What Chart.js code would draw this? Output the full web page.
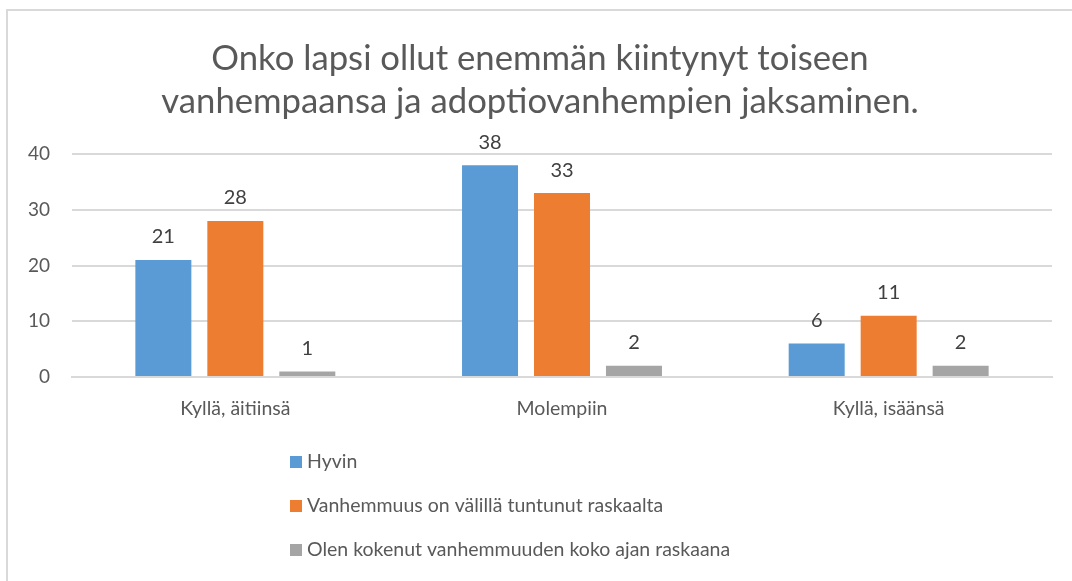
<!DOCTYPE html>
<html lang="fi">
<head>
  <meta charset="UTF-8">
  <title>Onko lapsi ollut enemmän kiintynyt toiseen vanhempaansa</title>
  <script src="https://cdn.jsdelivr.net/npm/chart.js"></script>
  <style>
    html, body {
      margin: 0;
      padding: 0;
      background: #fff;
      overflow: hidden;
    }
    #frame {
      position: absolute;
      left: 6px;
      top: 9px;
      width: 1200px;
      height: 800px;
      border: 2px solid #d9d9d9;
    }
    #wrap {
      position: absolute;
      left: 0;
      top: 0;
      width: 1072px;
      height: 581px;
    }
  </style>
</head>
<body>
  <div id="frame"></div>
  <div id="wrap"><canvas id="chart"></canvas></div>

  <script>
    // kategoriat ja sarjat
    const categories = ["Kyllä, äitiinsä", "Molempiin", "Kyllä, isäänsä"];
    const seriesNames = [
      "Hyvin",
      "Vanhemmuus on välillä tuntunut raskaalta",
      "Olen kokenut vanhemmuuden koko ajan raskaana"
    ];
    const hyvin = [21, 38, 6];
    const valilla = [28, 33, 11];
    const kokoAjan = [1, 2, 2];
    const yTicks = [0, 10, 20, 30, 40];

    const colors = ["#5b9bd5", "#ed7d31", "#a5a5a5"];
    const fontFamily = "Lato, 'Open Sans', sans-serif";
    const textColor = "#595959";

    // arvot pylväiden yläpuolelle
    const valueLabels = {
      id: "valueLabels",
      afterDatasetsDraw(chart) {
        const ctx = chart.ctx;
        ctx.save();
        ctx.font = "20px " + fontFamily;
        ctx.fillStyle = "#404040";
        ctx.textAlign = "center";
        ctx.textBaseline = "middle";
        chart.data.datasets.forEach((ds, i) => {
          chart.getDatasetMeta(i).data.forEach((bar, j) => {
            ctx.fillText(ds.data[j], bar.x, bar.y - 23);
          });
        });
        ctx.restore();
      }
    };

    // selite pystysuorana listana
    const listLegend = {
      id: "listLegend",
      afterDraw(chart) {
        const ctx = chart.ctx;
        const top = chart.chartArea.bottom + 85;
        ctx.save();
        ctx.font = "19.5px " + fontFamily;
        ctx.textBaseline = "middle";
        ctx.textAlign = "left";
        chart.data.datasets.forEach((ds, i) => {
          const y = top + i * 44;
          ctx.fillStyle = ds.backgroundColor;
          ctx.fillRect(290, y - 6, 12, 12);
          ctx.fillStyle = textColor;
          ctx.fillText(ds.label, 307, y);
        });
        ctx.restore();
      }
    };

    new Chart(document.getElementById("chart"), {
      type: "bar",
      data: {
        labels: categories,
        datasets: [
          { label: seriesNames[0], data: hyvin, backgroundColor: colors[0] },
          { label: seriesNames[1], data: valilla, backgroundColor: colors[1] },
          { label: seriesNames[2], data: kokoAjan, backgroundColor: colors[2] }
        ]
      },
      options: {
        responsive: true,
        maintainAspectRatio: false,
        animation: false,
        datasets: {
          bar: { categoryPercentage: 0.661, barPercentage: 0.778 }
        },
        layout: {
          padding: { left: 28, right: 20, top: 0, bottom: 154 }
        },
        plugins: {
          legend: { display: false },
          tooltip: { enabled: false },
          title: {
            display: true,
            text: [
              "Onko lapsi ollut enemmän kiintynyt toiseen",
              "vanhempaansa ja adoptiovanhempien jaksaminen."
            ],
            color: textColor,
            font: { family: fontFamily, size: 34.7, weight: "normal", lineHeight: 1.24 },
            padding: { top: 37, bottom: 31 }
          }
        },
        scales: {
          x: {
            grid: { display: false, drawTicks: false },
            border: { display: true, color: "#d9d9d9", width: 2 },
            ticks: { color: textColor, font: { family: fontFamily, size: 19.5 }, padding: 20 },
            afterFit(scale) { scale.height = 50; }
          },
          y: {
            min: yTicks[0],
            max: yTicks[yTicks.length - 1],
            afterBuildTicks(scale) { scale.ticks = yTicks.map(v => ({ value: v })); },
            grid: { color: "#d9d9d9", lineWidth: 2, drawTicks: false },
            border: { display: false },
            ticks: { color: textColor, font: { family: fontFamily, size: 19 }, padding: 22 },
            afterFit(scale) { scale.width = 44; }
          }
        }
      },
      plugins: [valueLabels, listLegend]
    });
  </script>
</body>
</html>
